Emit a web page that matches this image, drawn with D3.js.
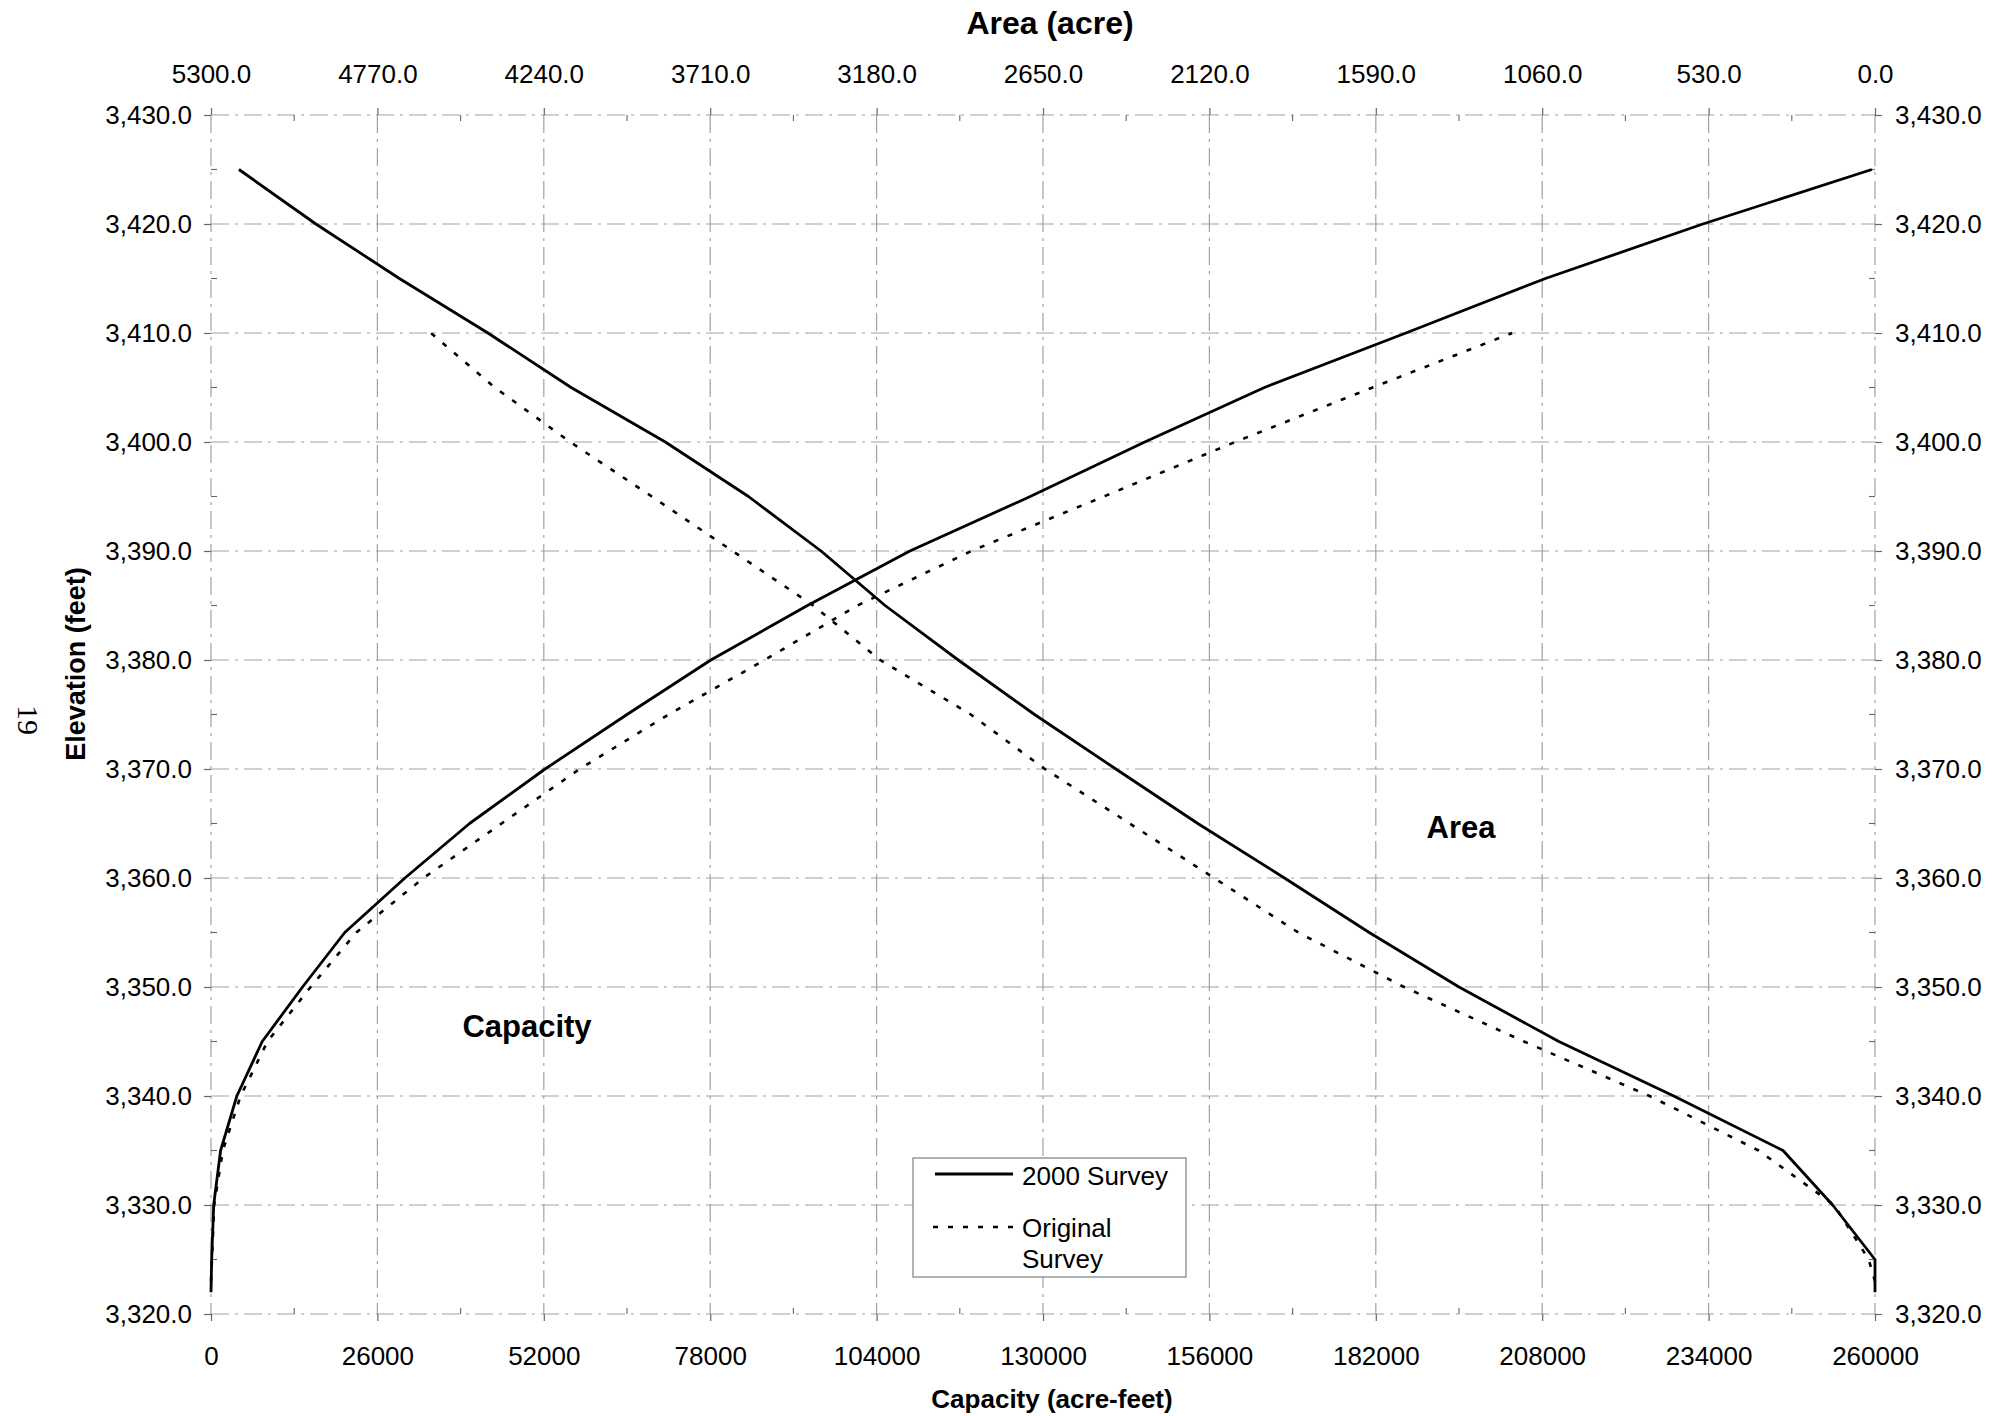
<!DOCTYPE html>
<html>
<head>
<meta charset="utf-8">
<script src="https://cdn.jsdelivr.net/npm/d3@7"></script>
<style>
  html, body { margin: 0; padding: 0; background: #fff; }
  svg { display: block; }
  text { font-family: "Liberation Sans", Arial, Helvetica, sans-serif; fill: #000; }
</style>
</head>
<body>
<svg id="chart" width="2012" height="1416"></svg>
<script>
// ---------------- DATA ----------------
const elevation2000 = [3322, 3325, 3330, 3335, 3340, 3345, 3350, 3355, 3360, 3365, 3370,
                       3375, 3380, 3385, 3390, 3395, 3400, 3405, 3410, 3415, 3420, 3425];
const capacity2000  = [0, 100, 420, 1500, 4040, 8000, 14300, 20900, 30300, 40400, 52200,
                       65000, 78100, 93200, 109200, 128000, 145900, 164600, 186700, 208500, 233100, 259500];
const area2000      = [0, 0, 135, 293, 641, 1007, 1325, 1611, 1881, 2157, 2418,
                       2677, 2920, 3153, 3357, 3588, 3853, 4153, 4418, 4700, 4966, 5211];

const elevationOriginal = [3323, 3325, 3330, 3335, 3340, 3345, 3350, 3355, 3360, 3365,
                           3370, 3375, 3380, 3385, 3390, 3395, 3400, 3405, 3410];
const capacityOriginal  = [0, 150, 500, 1850, 4630, 8830, 15560, 22700, 33200, 45400,
                           57600, 71500, 86500, 101000, 118800, 139500, 160000, 181500, 203300];
const areaOriginal      = [0, 20, 130, 371, 718, 1118, 1500, 1837, 2105, 2374,
                           2644, 2880, 3169, 3382, 3639, 3896, 4156, 4396, 4600];

const elevationTicks = [3320, 3330, 3340, 3350, 3360, 3370, 3380, 3390, 3400, 3410, 3420, 3430];
const elevationMinorTicks = [3325, 3335, 3345, 3355, 3365, 3375, 3385, 3395, 3405, 3415, 3425];
const capacityTicks = [0, 26000, 52000, 78000, 104000, 130000, 156000, 182000, 208000, 234000, 260000];
const capacityMinorTicks = [13000, 39000, 65000, 91000, 117000, 143000, 169000, 195000, 221000, 247000];
const areaTicks = [5300, 4770, 4240, 3710, 3180, 2650, 2120, 1590, 1060, 530, 0];
const areaMinorTicks = [5035, 4505, 3975, 3445, 2915, 2385, 1855, 1325, 795, 265];

const legendLabels = [["2000 Survey"], ["Original", "Survey"]];

// ---------------- LAYOUT ----------------
const M = { left: 211, right: 1875, top: 115, bottom: 1314 };
const svg = d3.select("#chart");

const x  = d3.scaleLinear().domain([0, 260000]).range([M.left, M.right]);
const xa = d3.scaleLinear().domain([5300, 0]).range([M.left, M.right]);
const y  = d3.scaleLinear().domain([3320, 3430]).range([M.bottom, M.top]);

const gridColor = "#a2a2a2";
const gridDash = "18,6,3,6";

// grid
const grid = svg.append("g");
grid.selectAll("line.h").data(elevationTicks).join("line")
  .attr("x1", M.left).attr("x2", M.right)
  .attr("y1", d => y(d)).attr("y2", d => y(d))
  .attr("stroke", gridColor).attr("stroke-width", 1.2).attr("stroke-dasharray", gridDash);
grid.selectAll("line.v").data(capacityTicks).join("line")
  .attr("y1", M.top).attr("y2", M.bottom)
  .attr("x1", d => x(d)).attr("x2", d => x(d))
  .attr("stroke", gridColor).attr("stroke-width", 1.2).attr("stroke-dasharray", gridDash);

// axes
const fmtElev = d3.format(",.1f");
function styleAxis(g) {
  g.select(".domain").remove();
  g.selectAll(".tick line").attr("stroke", "#666").attr("stroke-width", 1.2);
  g.selectAll(".tick text").attr("font-size", 26)
    .attr("font-family", '"Liberation Sans", Arial, sans-serif').attr("fill", "#000");
}
svg.append("g").attr("transform", `translate(${M.left},0)`)
  .call(d3.axisLeft(y).tickValues(elevationTicks).tickFormat(fmtElev).tickSize(7).tickPadding(12))
  .call(styleAxis);
svg.append("g").attr("transform", `translate(${M.right},0)`)
  .call(d3.axisRight(y).tickValues(elevationTicks).tickFormat(fmtElev).tickSize(7).tickPadding(13))
  .call(styleAxis);
svg.append("g").attr("transform", `translate(0,${M.bottom})`)
  .call(d3.axisBottom(x).tickValues(capacityTicks).tickFormat(d3.format("d")).tickSize(7).tickPadding(26))
  .call(styleAxis);
svg.append("g").attr("transform", `translate(0,${M.top})`)
  .call(d3.axisTop(xa).tickValues(areaTicks).tickFormat(d3.format(".1f")).tickSize(7).tickPadding(25))
  .call(styleAxis);

// minor inward ticks
const minor = svg.append("g").attr("stroke", "#666").attr("stroke-width", 1.1);
minor.selectAll("line.ml").data(elevationMinorTicks).join("line")
  .attr("x1", M.left).attr("x2", M.left + 6).attr("y1", d => y(d)).attr("y2", d => y(d));
minor.selectAll("line.mr").data(elevationMinorTicks).join("line")
  .attr("x1", M.right).attr("x2", M.right - 6).attr("y1", d => y(d)).attr("y2", d => y(d));
minor.selectAll("line.mb").data(capacityMinorTicks).join("line")
  .attr("x1", d => x(d)).attr("x2", d => x(d)).attr("y1", M.bottom).attr("y2", M.bottom - 6);
minor.selectAll("line.mt").data(areaMinorTicks).join("line")
  .attr("x1", d => xa(d)).attr("x2", d => xa(d)).attr("y1", M.top).attr("y2", M.top + 6);

// ---------------- CURVES ----------------
const capLine = d3.line().x(d => x(d[0])).y(d => y(d[1]));
const areaLine = d3.line().x(d => xa(d[0])).y(d => y(d[1]));

const cap2000 = capacity2000.map((c, i) => [c, elevation2000[i]]);
const ar2000 = area2000.map((a, i) => [a, elevation2000[i]]);
const capOrig = capacityOriginal.map((c, i) => [c, elevationOriginal[i]]);
const arOrig = areaOriginal.map((a, i) => [a, elevationOriginal[i]]);

const curves = svg.append("g").attr("fill", "none").attr("stroke", "#000").attr("stroke-linejoin", "round");
curves.append("path").attr("d", capLine(capOrig)).attr("stroke-width", 2.6).attr("stroke-dasharray", "5,10");
curves.append("path").attr("d", areaLine(arOrig)).attr("stroke-width", 2.6).attr("stroke-dasharray", "5,10");
curves.append("path").attr("d", capLine(cap2000)).attr("stroke-width", 2.8);
curves.append("path").attr("d", areaLine(ar2000)).attr("stroke-width", 2.8);

// ---------------- TITLES & LABELS ----------------
svg.append("text").attr("x", 1050).attr("y", 34).attr("text-anchor", "middle")
  .attr("font-size", 32).attr("font-weight", "bold").text("Area (acre)");
svg.append("text").attr("x", 1052).attr("y", 1408).attr("text-anchor", "middle")
  .attr("font-size", 26).attr("font-weight", "bold").text("Capacity (acre-feet)");
svg.append("text").attr("transform", "translate(85,664) rotate(-90)").attr("text-anchor", "middle")
  .attr("font-size", 27).attr("font-weight", "bold").text("Elevation (feet)");
svg.append("text").attr("x", 527).attr("y", 1037).attr("text-anchor", "middle")
  .attr("font-size", 31).attr("font-weight", "bold").text("Capacity");
svg.append("text").attr("x", 1461).attr("y", 838).attr("text-anchor", "middle")
  .attr("font-size", 31).attr("font-weight", "bold").text("Area");

// page number
svg.append("text").attr("transform", "translate(18,720) rotate(90)").attr("text-anchor", "middle")
  .attr("font-size", 30).style("font-family", '"Liberation Serif", "Times New Roman", serif').text("19");

// ---------------- LEGEND ----------------
const lg = svg.append("g");
lg.append("rect").attr("x", 913).attr("y", 1158).attr("width", 273).attr("height", 119)
  .attr("fill", "#fff").attr("stroke", "#888").attr("stroke-width", 1.3);
lg.append("line").attr("x1", 935).attr("x2", 1013).attr("y1", 1174).attr("y2", 1174)
  .attr("stroke", "#000").attr("stroke-width", 2.8);
lg.append("line").attr("x1", 933).attr("x2", 1019).attr("y1", 1227).attr("y2", 1227)
  .attr("stroke", "#000").attr("stroke-width", 2.6).attr("stroke-dasharray", "5,10");
lg.append("text").attr("x", 1022).attr("y", 1185).attr("font-size", 26).text(legendLabels[0][0]);
const t2 = lg.append("text").attr("x", 1022).attr("y", 1237).attr("font-size", 26);
t2.append("tspan").attr("x", 1022).text(legendLabels[1][0]);
t2.append("tspan").attr("x", 1022).attr("dy", 31).text(legendLabels[1][1]);
</script>
</body>
</html>
